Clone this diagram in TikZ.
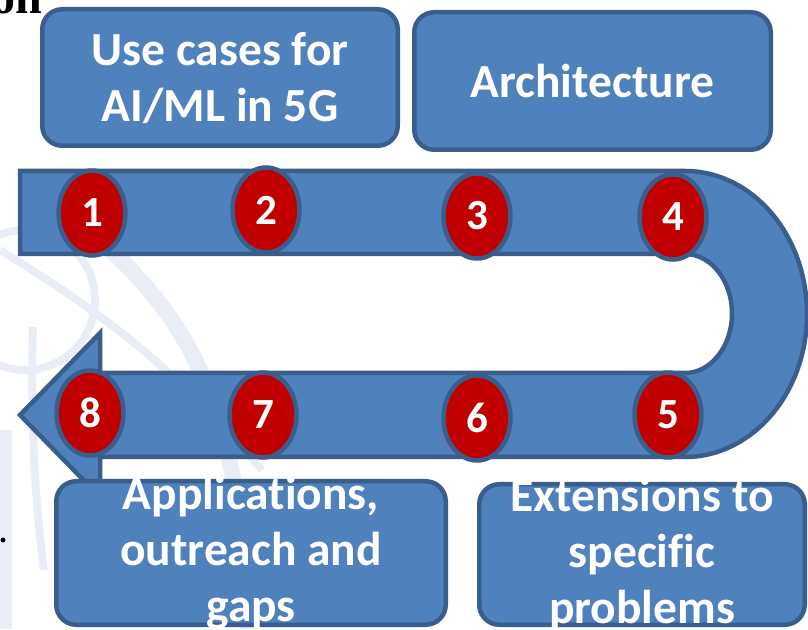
\documentclass[tikz,border=0pt]{standalone}
\usepackage{fontspec}
\setmainfont{Carlito}[Ligatures={NoCommon,NoContextual}, Contextuals=NoAlternate]
\newfontfamily\headfont{Liberation Serif}
\usetikzlibrary{shapes.geometric}
\definecolor{boxfill}{HTML}{4F81BD}
\definecolor{boxline}{HTML}{3A5E8C}
\definecolor{badgered}{HTML}{C00000}
\definecolor{faint}{HTML}{E9EEF6}
\begin{document}
\begin{tikzpicture}[x=1pt,y=1pt,
  panel/.style={rectangle, draw=boxline, fill=boxfill, line width=4.5pt,
    rounded corners=20pt, inner sep=0pt},
  paneltext/.style={text=white, align=center, inner sep=0pt,
    font=\bfseries\fontsize{47.5}{56}\selectfont},
  badge/.style={ellipse, draw=boxline, fill=badgered, line width=4.5pt,
    minimum width=67pt, minimum height=85pt, inner sep=0pt, text=white,
    font=\bfseries\fontsize{43}{43}\selectfont},
  band/.style={draw=boxline, fill=boxfill, line width=4.5pt},
  faintline/.style={draw=faint, line width=8pt}]
\useasboundingbox (0,0) rectangle (808,629);

% faint globe watermark behind everything
\fill[faint] (0,0) rectangle (12,199);
\draw[faintline, line width=16pt] (100,389) .. controls (200,299) and (240,209) .. (248,0);
\draw[faintline] (25,329) circle[radius=70];
\draw[faintline] (0,379) .. controls (80,329) and (160,279) .. (262,159);
\draw[faintline] (33,302) .. controls (30,200) and (36,120) .. (44,59);

% heading fragment and bullet at the edge
\node[anchor=base west, inner sep=0pt, font=\headfont\bfseries\fontsize{48}{48}\selectfont]
  (head) at (-9,615) {on};
\fill (3,89) circle[radius=2.5];

% U-shaped arrow band
\path[band] (20,458) -- (685,458)
  arc[start angle=90, end angle=-90, x radius=122, y radius=143]
  -- (100,172) -- (100,132) -- (20,214) -- (100,296) -- (100,256) -- (685,256)
  arc[start angle=-90, end angle=90, x radius=47, y radius=59.5]
  -- (20,375) -- cycle;

% numbered steps
\node[badge] (n1) at (92,416) {1};
\node[badge] (n2) at (266,419) {2};
\node[badge] (n3) at (477,413) {3};
\node[badge] (n4) at (673,412) {4};
\node[badge] (n5) at (668,214) {5};
\node[badge] (n6) at (477,211) {6};
\node[badge] (n7) at (263,214) {7};
\node[badge] (n8) at (90,216) {8};

% topic panels
\node[panel, minimum width=355.5pt, minimum height=136.5pt] (p1) at (220,551.5) {};
\node[panel, minimum width=356.5pt, minimum height=137.5pt] (p2) at (592.5,548) {};
\node[panel, minimum width=389.5pt, minimum height=143.5pt] (p3) at (251,76) {};
\node[panel, minimum width=325.5pt, minimum height=140.5pt] (p4) at (642,74.5) {};

\node[paneltext] (t1) at ([yshift=-1pt]p1.center) {Use cases for\\AI/ML in 5G};
\node[paneltext] (t2) at (p2.center) {Architecture};
\node[paneltext] (t3) at (p3.center) {Applications,\\outreach and\\gaps};
\node[paneltext] (t4) at (p4.center) {Extensions to\\specific\\problems};
\end{tikzpicture}
\end{document}
